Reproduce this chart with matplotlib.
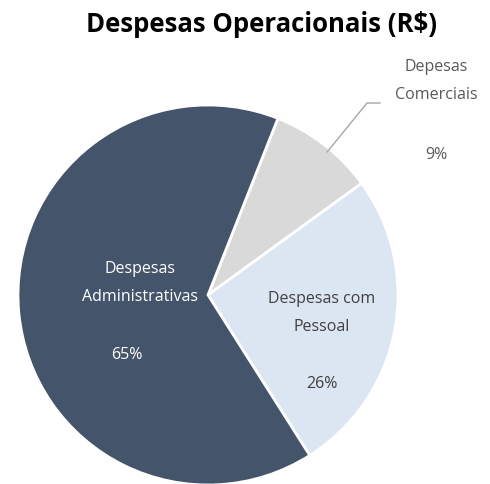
import numpy as np
import matplotlib.pyplot as plt

plt.rcParams['font.family'] = ['Open Sans', 'DejaVu Sans']

# ---------------------------------------------------------------------------
# Data
# ---------------------------------------------------------------------------
TITLE = "Despesas Operacionais (R$)"
labels = ["Depesas\nComerciais", "Despesas com\nPessoal", "Despesas\nAdministrativas"]
shares = [9, 26, 65]
colors = ["#D9D9D9", "#DCE6F2", "#44546A"]
text_colors = ["#595959", "#404040", "#FFFFFF"]

W, H = 490, 484
CENTER = (208, H - 295)
RADIUS = 190

fig = plt.figure(figsize=(W / 100, H / 100), dpi=100)
ax = fig.add_axes([0, 0, 1, 1])

wedges, _ = ax.pie(
    shares, colors=colors, startangle=68.4, counterclock=False,
    center=CENTER, radius=RADIUS,
    wedgeprops={"edgecolor": "white", "linewidth": 2},
)
ax.set_xlim(0, W)
ax.set_ylim(0, H)
ax.set_aspect("equal")
ax.axis("off")

# label positions (pixel coords, y from top)
label_pos = [(436, 81), (322, 313), (140, 283)]
pct_pos = [(436, 155), (322, 384), (127, 355)]

for lab, pct, (lx, ly), (px, py), tc in zip(labels, shares, label_pos, pct_pos, text_colors):
    ax.text(lx, H - ly, lab, ha="center", va="center", fontsize=11.5,
            color=tc, linespacing=2.05)
    ax.text(px, H - py, f"{pct}%", ha="center", va="center", fontsize=11.5, color=tc)

# leader line for the small slice
w = wedges[0]
mid = np.deg2rad((w.theta1 + w.theta2) / 2 - 2)
sx = CENTER[0] + RADIUS * 0.98 * np.cos(mid)
sy = CENTER[1] + RADIUS * 0.98 * np.sin(mid)
ax.plot([sx, 367, 380], [sy, H - 103, H - 103], color="#A6A6A6", lw=1)

fig.text(262 / W, 1 - 24 / H, TITLE, ha="center", va="center",
         fontsize=18.5, fontweight="bold", color="black")

fig.savefig("out.png", dpi=100, facecolor="white")
